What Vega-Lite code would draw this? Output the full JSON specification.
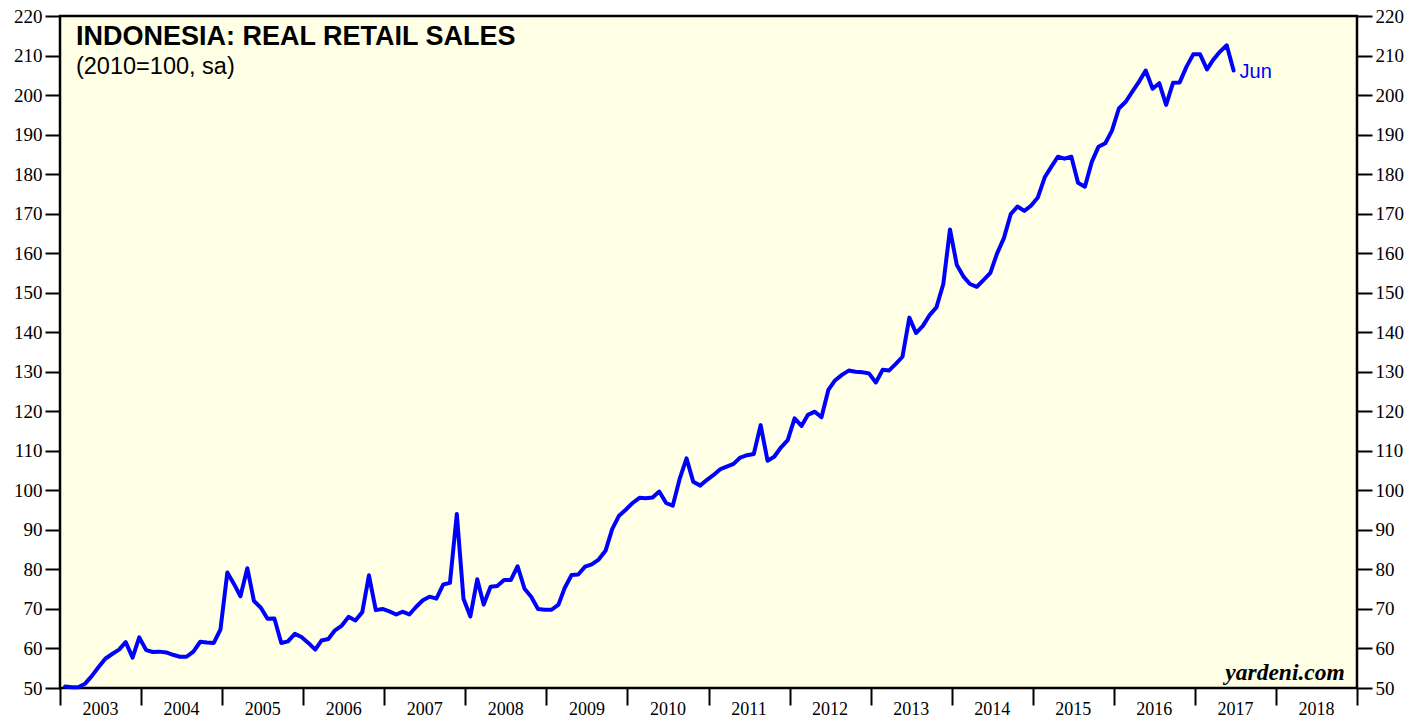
{
  "$schema": "https://vega.github.io/schema/vega-lite/v6.json",
  "width": 1297,
  "height": 672,
  "autosize": {"type": "none"},
  "padding": {"left": 60, "top": 16, "right": 71, "bottom": 29},
  "background": "white",
  "config": {
    "view": {"fill": "#FFFFE5", "stroke": "black", "strokeWidth": 2.5},
    "font": "Liberation Sans"
  },
  "datasets": {
    "sales": [
    {"date":"2003-01-24","value":50.4},{"date":"2003-02-24","value":50.2},{"date":"2003-03-24","value":50.2},{"date":"2003-04-24","value":51.1},{"date":"2003-05-24","value":53.0},{"date":"2003-06-24","value":55.3},{"date":"2003-07-24","value":57.4},{"date":"2003-08-24","value":58.6},{"date":"2003-09-24","value":59.7},{"date":"2003-10-24","value":61.6},{"date":"2003-11-24","value":57.7},{"date":"2003-12-24","value":62.8},
    {"date":"2004-01-24","value":59.6},{"date":"2004-02-24","value":59.1},{"date":"2004-03-24","value":59.2},{"date":"2004-04-24","value":59.0},{"date":"2004-05-24","value":58.4},{"date":"2004-06-24","value":57.9},{"date":"2004-07-24","value":57.9},{"date":"2004-08-24","value":59.2},{"date":"2004-09-24","value":61.7},{"date":"2004-10-24","value":61.5},{"date":"2004-11-24","value":61.4},{"date":"2004-12-24","value":64.8},
    {"date":"2005-01-24","value":79.2},{"date":"2005-02-24","value":76.2},{"date":"2005-03-24","value":73.2},{"date":"2005-04-24","value":80.3},{"date":"2005-05-24","value":72.0},{"date":"2005-06-24","value":70.3},{"date":"2005-07-24","value":67.5},{"date":"2005-08-24","value":67.6},{"date":"2005-09-24","value":61.4},{"date":"2005-10-24","value":61.8},{"date":"2005-11-24","value":63.7},{"date":"2005-12-24","value":62.9},
    {"date":"2006-01-24","value":61.4},{"date":"2006-02-24","value":59.7},{"date":"2006-03-24","value":62.0},{"date":"2006-04-24","value":62.4},{"date":"2006-05-24","value":64.6},{"date":"2006-06-24","value":65.8},{"date":"2006-07-24","value":68.0},{"date":"2006-08-24","value":67.1},{"date":"2006-09-24","value":69.2},{"date":"2006-10-24","value":78.5},{"date":"2006-11-24","value":69.7},{"date":"2006-12-24","value":70.0},
    {"date":"2007-01-24","value":69.4},{"date":"2007-02-24","value":68.6},{"date":"2007-03-24","value":69.3},{"date":"2007-04-24","value":68.6},{"date":"2007-05-24","value":70.5},{"date":"2007-06-24","value":72.2},{"date":"2007-07-24","value":73.1},{"date":"2007-08-24","value":72.6},{"date":"2007-09-24","value":76.2},{"date":"2007-10-24","value":76.6},{"date":"2007-11-24","value":94.0},{"date":"2007-12-24","value":72.6},
    {"date":"2008-01-24","value":68.1},{"date":"2008-02-24","value":77.5},{"date":"2008-03-24","value":71.1},{"date":"2008-04-24","value":75.6},{"date":"2008-05-24","value":75.8},{"date":"2008-06-24","value":77.3},{"date":"2008-07-24","value":77.3},{"date":"2008-08-24","value":80.8},{"date":"2008-09-24","value":75.1},{"date":"2008-10-24","value":73.1},{"date":"2008-11-24","value":70.0},{"date":"2008-12-24","value":69.8},
    {"date":"2009-01-24","value":69.8},{"date":"2009-02-24","value":71.1},{"date":"2009-03-24","value":75.3},{"date":"2009-04-24","value":78.6},{"date":"2009-05-24","value":78.7},{"date":"2009-06-24","value":80.7},{"date":"2009-07-24","value":81.3},{"date":"2009-08-24","value":82.5},{"date":"2009-09-24","value":84.7},{"date":"2009-10-24","value":90.2},{"date":"2009-11-24","value":93.6},{"date":"2009-12-24","value":95.1},
    {"date":"2010-01-24","value":96.8},{"date":"2010-02-24","value":98.1},{"date":"2010-03-24","value":98.0},{"date":"2010-04-24","value":98.2},{"date":"2010-05-24","value":99.7},{"date":"2010-06-24","value":96.8},{"date":"2010-07-24","value":96.1},{"date":"2010-08-24","value":102.9},{"date":"2010-09-24","value":108.1},{"date":"2010-10-24","value":102.2},{"date":"2010-11-24","value":101.2},{"date":"2010-12-24","value":102.6},
    {"date":"2011-01-24","value":103.9},{"date":"2011-02-24","value":105.4},{"date":"2011-03-24","value":106.0},{"date":"2011-04-24","value":106.7},{"date":"2011-05-24","value":108.3},{"date":"2011-06-24","value":108.9},{"date":"2011-07-24","value":109.2},{"date":"2011-08-24","value":116.5},{"date":"2011-09-24","value":107.5},{"date":"2011-10-24","value":108.5},{"date":"2011-11-24","value":110.9},{"date":"2011-12-24","value":112.7},
    {"date":"2012-01-24","value":118.2},{"date":"2012-02-24","value":116.3},{"date":"2012-03-24","value":119.1},{"date":"2012-04-24","value":119.9},{"date":"2012-05-24","value":118.5},{"date":"2012-06-24","value":125.4},{"date":"2012-07-24","value":127.8},{"date":"2012-08-24","value":129.2},{"date":"2012-09-24","value":130.3},{"date":"2012-10-24","value":130.0},{"date":"2012-11-24","value":129.9},{"date":"2012-12-24","value":129.6},
    {"date":"2013-01-24","value":127.3},{"date":"2013-02-24","value":130.5},{"date":"2013-03-24","value":130.3},{"date":"2013-04-24","value":132.0},{"date":"2013-05-24","value":133.8},{"date":"2013-06-24","value":143.7},{"date":"2013-07-24","value":139.8},{"date":"2013-08-24","value":141.6},{"date":"2013-09-24","value":144.4},{"date":"2013-10-24","value":146.3},{"date":"2013-11-24","value":152.2},{"date":"2013-12-24","value":166.0},
    {"date":"2014-01-24","value":157.0},{"date":"2014-02-24","value":154.0},{"date":"2014-03-24","value":152.2},{"date":"2014-04-24","value":151.5},{"date":"2014-05-24","value":153.2},{"date":"2014-06-24","value":155.0},{"date":"2014-07-24","value":159.9},{"date":"2014-08-24","value":163.8},{"date":"2014-09-24","value":169.9},{"date":"2014-10-24","value":171.8},{"date":"2014-11-24","value":170.7},{"date":"2014-12-24","value":172.0},
    {"date":"2015-01-24","value":174.1},{"date":"2015-02-24","value":179.2},{"date":"2015-03-24","value":181.7},{"date":"2015-04-24","value":184.4},{"date":"2015-05-24","value":183.9},{"date":"2015-06-24","value":184.4},{"date":"2015-07-24","value":177.8},{"date":"2015-08-24","value":176.8},{"date":"2015-09-24","value":183.1},{"date":"2015-10-24","value":186.9},{"date":"2015-11-24","value":187.8},{"date":"2015-12-24","value":191.0},
    {"date":"2016-01-24","value":196.6},{"date":"2016-02-24","value":198.3},{"date":"2016-03-24","value":200.8},{"date":"2016-04-24","value":203.4},{"date":"2016-05-24","value":206.2},{"date":"2016-06-24","value":201.6},{"date":"2016-07-24","value":203.0},{"date":"2016-08-24","value":197.5},{"date":"2016-09-24","value":203.1},{"date":"2016-10-24","value":203.2},{"date":"2016-11-24","value":207.2},{"date":"2016-12-24","value":210.3},
    {"date":"2017-01-24","value":210.3},{"date":"2017-02-24","value":206.5},{"date":"2017-03-24","value":208.9},{"date":"2017-04-24","value":211.0},{"date":"2017-05-24","value":212.6},{"date":"2017-06-24","value":206.2}
    ],
    "one": [{"n": 1}]
  },
  "data": {"name": "sales"},
  "layer": [
    {
      "mark": {"type": "line", "color": "#0000FF", "strokeWidth": 4, "strokeJoin": "round", "strokeCap": "round"},
      "encoding": {
        "x": {
          "field": "date", "type": "temporal",
          "scale": {"domain": [{"year": 2003, "month": 1, "date": 1}, {"year": 2019, "month": 1, "date": 1}]},
          "axis": {
            "title": null, "tickCount": {"interval": "year", "step": 1}, "format": "%Y",
            "labelOffset": 40, "labelAlign": "center", "labelBaseline": "alphabetic",
            "tickSize": 17, "tickWidth": 2, "tickColor": "black", "domain": false, "grid": false,
            "labelFont": "Liberation Serif", "labelFontSize": 18, "labelColor": "black",
            "labelPadding": 9, "labelFlush": false, "labelOverlap": false, "labelBound": false,
            "labelExpr": "year(datum.value) >= 2019 ? '' : datum.label"
          }
        },
        "y": {
          "field": "value", "type": "quantitative",
          "scale": {"domain": [50, 220], "nice": false, "zero": false},
          "axis": {
            "title": null, "orient": "left",
            "values": [50,60,70,80,90,100,110,120,130,140,150,160,170,180,190,200,210,220],
            "tickSize": 15, "tickWidth": 2, "tickColor": "black", "domain": false, "grid": false,
            "labelFont": "Liberation Serif", "labelFontSize": 19, "labelColor": "black",
            "labelPadding": 3, "labelFlush": false, "labelOverlap": false, "labelBound": false
          }
        }
      }
    },
    {
      "transform": [{"filter": "year(datum.date) == 2017 && month(datum.date) == 5"}],
      "mark": {"type": "text", "text": "Jun", "align": "left", "baseline": "middle", "dx": 6, "dy": 1, "fontSize": 20, "font": "Liberation Sans", "color": "#0000FF"},
      "encoding": {
        "x": {"field": "date", "type": "temporal"},
        "y": {
          "field": "value", "type": "quantitative",
          "axis": {
            "title": null, "orient": "right",
            "values": [50,60,70,80,90,100,110,120,130,140,150,160,170,180,190,200,210,220],
            "tickSize": 15, "tickWidth": 2, "tickColor": "black", "domain": false, "grid": false,
            "labelFont": "Liberation Serif", "labelFontSize": 19, "labelColor": "black",
            "labelPadding": 3, "labelFlush": false, "labelOverlap": false, "labelBound": false
          }
        }
      }
    },
    {
      "data": {"name": "one"},
      "mark": {"type": "text", "text": "INDONESIA: REAL RETAIL SALES", "align": "left", "baseline": "alphabetic", "font": "Liberation Sans", "fontWeight": "bold", "fontSize": 27, "color": "black"},
      "encoding": {
        "x": {"datum": {"year": 2003, "month": 3, "date": 14}, "type": "temporal"},
        "y": {"datum": 212.66, "type": "quantitative", "axis": null}
      }
    },
    {
      "data": {"name": "one"},
      "mark": {"type": "text", "text": "(2010=100, sa)", "align": "left", "baseline": "alphabetic", "font": "Liberation Sans", "fontSize": 23.5, "color": "black"},
      "encoding": {
        "x": {"datum": {"year": 2003, "month": 3, "date": 14}, "type": "temporal"},
        "y": {"datum": 205.3, "type": "quantitative", "axis": null}
      }
    },
    {
      "data": {"name": "one"},
      "mark": {"type": "text", "text": "yardeni.com", "align": "right", "baseline": "alphabetic", "font": "Liberation Serif", "fontWeight": "bold", "fontStyle": "italic", "fontSize": 23.5, "color": "black"},
      "encoding": {
        "x": {"datum": {"year": 2018, "month": 11, "date": 7}, "type": "temporal"},
        "y": {"datum": 52.0, "type": "quantitative", "axis": null}
      }
    }
  ],
  "resolve": {"axis": {"y": "independent"}}
}
